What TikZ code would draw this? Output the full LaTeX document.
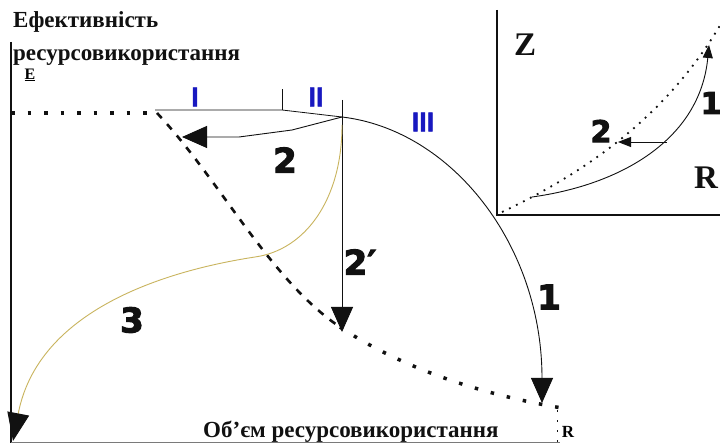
\documentclass[tikz,border=0pt]{standalone}
\usepackage{fontspec}
\setmainfont{Liberation Serif}
\newfontfamily\numfont{DejaVu Sans Bold}[FakeBold=3]
\newfontfamily\romfont{Liberation Sans Bold}[FakeBold=1.8]
\usepackage{xcolor}
\usetikzlibrary{arrows.meta,positioning,calc}
\definecolor{ink}{HTML}{111111}
\definecolor{romanblue}{HTML}{1818C0}
\definecolor{curvegold}{HTML}{C9B45E}
\definecolor{axisgray}{HTML}{7A7A7A}
\tikzset{
  axisline/.style={draw=ink,line width=1.4pt},
  thinline/.style={draw=ink,line width=0.8pt},
  bigarr/.style={-{Triangle[length=25pt,width=22pt]},draw=ink,line width=0.9pt},
  smallarr/.style={-{Triangle[length=13pt,width=10pt]},draw=ink,line width=0.9pt},
  squaredots/.style={draw=ink,line width=3.5pt,dash pattern=on 3.5pt off 13pt},
  bounddash/.style={draw=ink,line width=2.6pt,dash pattern=on 7pt off 8pt},
  finedots/.style={draw=ink,line width=1.8pt,dash pattern=on 1.8pt off 6pt},
  yellowarc/.style={draw=curvegold,line width=0.9pt,
                    -{Triangle[length=28pt,width=22pt,color=ink]}},
  bignum/.style={font=\numfont\fontsize{34}{34}\selectfont,text=ink,inner sep=0pt},
  romnum/.style={font=\romfont\fontsize{27}{27}\selectfont,text=romanblue,inner sep=0pt},
  axistext/.style={font=\bfseries\fontsize{23}{23}\selectfont,text=ink,
                   anchor=base west,inner sep=0pt},
  bigletter/.style={font=\bfseries\fontsize{33}{33}\selectfont,text=ink,inner sep=0pt}
}

\begin{document}
\begin{tikzpicture}[x=1pt,y=-1pt]
  \clip (0,0) rectangle (720,443);
  \fill[white] (0,0) rectangle (720,443);

  % axes and their titles
  \coordinate (ytop) at (11,42);
  \coordinate (origin) at (11,443);
  \coordinate (xend) at (560,442);
  \draw[axisline] (ytop) -- (origin);
  \draw[axisgray,line width=1pt] (11,442) -- (xend);
  \node[axistext] (ytitle) at (13,28) {Ефективність};
  \node[axistext] (ytitletwo) at (13,61) {ресурсовикористання};
  \node[font=\bfseries\fontsize{16}{16}\selectfont,inner sep=0pt] (elabel) at (30,75) {\underline{E}};
  \node[axistext] (xtitle) at (203,437) {Об'єм ресурсовикористання};
  \node[font=\bfseries\fontsize{17}{17}\selectfont,inner sep=0pt] (rlabel) at (568,432) {R};

  % upper frontier with the zone ticks
  \coordinate (dotstart) at (11,113);
  \coordinate (dotend) at (150,113);
  \coordinate (lineA) at (155,110);
  \coordinate (tickone) at (282,110);
  \coordinate (peak) at (342,117);
  \coordinate (ticktwo) at (342,100);
  \draw[squaredots] (dotstart) -- (dotend);
  \draw[thinline] (lineA) -- (tickone) -- (peak);
  \draw[thinline] (tickone) -- ++(0,-21);
  \node[romnum] (zoneI) at (195,97) {I};
  \node[romnum] (zoneII) at (316,97) {II};
  \node[romnum] (zoneIII) at (423,122) {III};

  % lower boundary
  \coordinate (bstart) at (157,113);
  \coordinate (bmid) at (340,327);
  \coordinate (bend) at (568,409);
  \draw[bounddash] (bstart) .. controls (220,180) and (270,280) .. (bmid);
  \draw[squaredots] (bmid) .. controls (400,367) and (480,395) .. (bend);
  \draw[ink,line width=1pt,dash pattern=on 2pt off 8pt] (557,410) -- (557,442);

  % moves 1, 2, 2' and 3
  \coordinate (tipone) at (542,403);
  \coordinate (tiptwo) at (182,137);
  \coordinate (tiptwop) at (342,332);
  \coordinate (startthree) at (342,125);
  \coordinate (midthree) at (255,257);
  \coordinate (tipthree) at (13,441);
  \draw[bigarr] (peak) .. controls +(110,13) and +(0,-158) .. (tipone);
  \draw[bigarr] (peak) -- ++(-50,13) -- ++(-53,7) -- (tiptwo);
  \draw[bigarr] (ticktwo) -- (tiptwop);
  \draw[yellowarc] (startthree) .. controls (342,200) and (305,250) .. (midthree)
    .. controls (190,267) and (40,300) .. (tipthree);
  \node[bignum] (numone) at (549,297) {1};
  \node[bignum] (numtwo) at (285,160) {2};
  \node[bignum] (numtwop) at (360,262) {2′};
  \node[bignum] (numthree) at (132,320) {3};

  % inset: Z against R
  \coordinate (insettop) at (497,10);
  \coordinate (insetcorner) at (497,215);
  \coordinate (insetright) at (722,215);
  \draw[axisline] (insettop) -- (insetcorner) -- (insetright);
  \node[bigletter] (zlabel) at (525,45) {Z};
  \node[bigletter] (rinset) at (706,178) {R};
  \coordinate (zdotstart) at (502,212);
  \coordinate (zdotend) at (722,22);
  \draw[finedots] (zdotstart) .. controls (580,175) and (665,120) .. (zdotend);
  \coordinate (zstart) at (532,197);
  \coordinate (ztip) at (709,45);
  \coordinate (zfrom) at (667,142);
  \coordinate (ztiptwo) at (618,142);
  \draw[smallarr] (zstart) .. controls (620,185) and (700,140) .. (ztip);
  \draw[smallarr] (zfrom) -- (ztiptwo);
  \node[bignum,font=\numfont\fontsize{30}{30}\selectfont] (zone) at (711,103) {1};
  \node[bignum,font=\numfont\fontsize{30}{30}\selectfont] (ztwo) at (601,131) {2};
\end{tikzpicture}
\end{document}
